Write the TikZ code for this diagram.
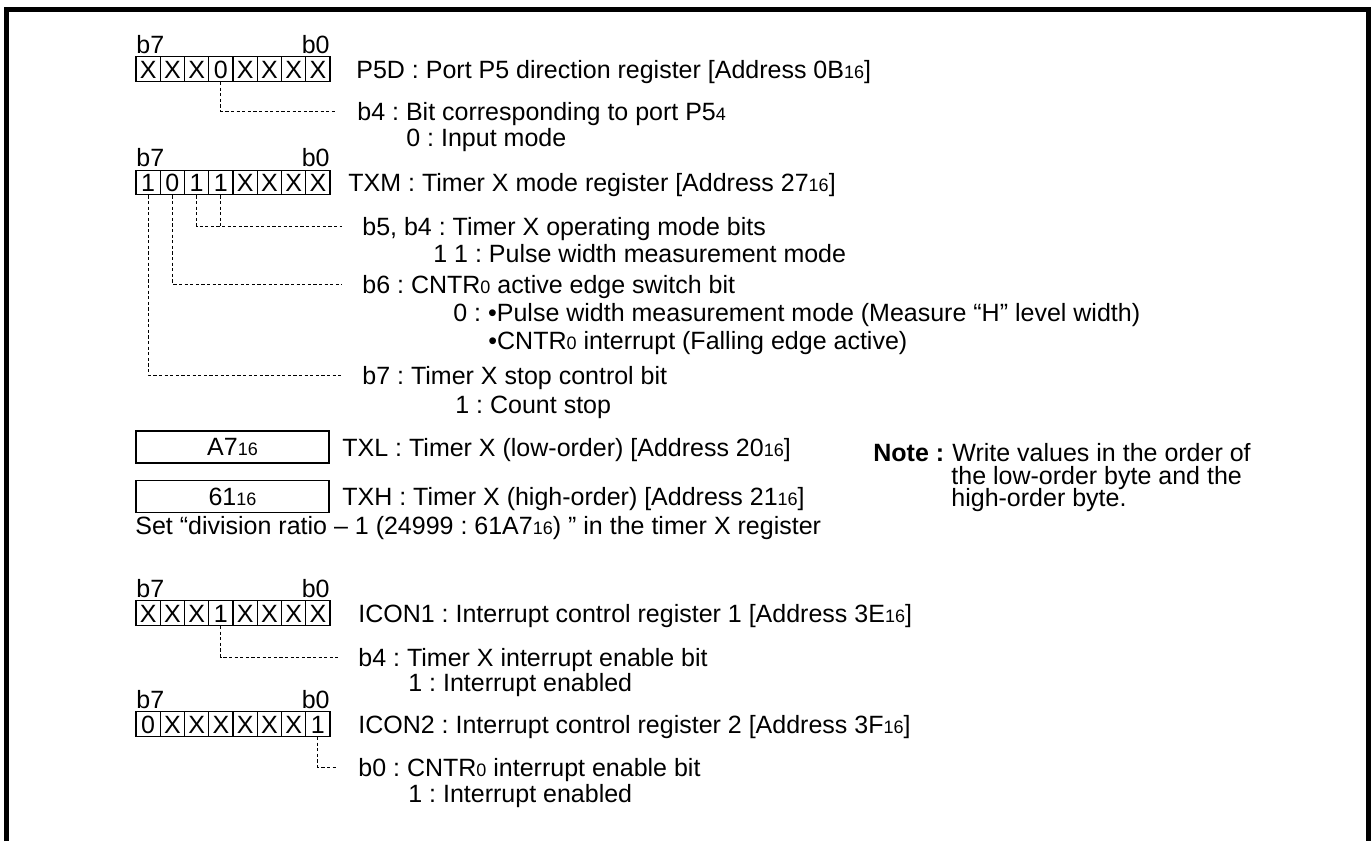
\documentclass[tikz,border=0pt]{standalone}
\usepackage{fontspec}
\setmainfont{Liberation Sans}
\usetikzlibrary{positioning}
\frenchspacing
\newcommand{\lowdig}[1]{{\fontsize{9pt}{10pt}\selectfont #1}}
\tikzset{
  bitcell/.style={draw, line width=0.7pt, minimum width=12.125pt,
    minimum height=12.25pt, inner sep=0pt, text height=9pt, text depth=0pt,
    font=\fontsize{12.5pt}{13pt}\selectfont},
  valbox/.style={draw, line width=0.7pt, minimum width=96.5pt,
    minimum height=16pt, inner sep=0pt},
  desc/.style={anchor=base west, inner sep=0pt, text height=9pt, text depth=0pt},
  bitlbl/.style={inner sep=0pt},
  lead/.style={line width=0.5pt, dash pattern=on 1.6pt off 1.2pt},
  frame/.style={line width=2.6pt}
}

\begin{document}
\begin{tikzpicture}[
    x=0.5pt, y=-0.5pt,
    font=\fontsize{12.5pt}{13pt}\selectfont
]
\useasboundingbox (0,0) rectangle (1371,841);

% frame
\draw[frame] (6.5,841) -- (6.5,9.5) -- (1368.5,9.5) -- (1368.5,841);

% P5D register
\foreach \v [count=\i] in {X,X,X,0,X,X,X,X}
  \node[bitcell] (p5d-\i) at ({136+(\i-0.5)*24.25},69) {\v};
\node[bitlbl, anchor=base west] (p5d-hi) at (136,53) {b7};
\node[bitlbl, anchor=base east] (p5d-lo) at (330,53) {b0};
\node[desc] (p5d)     at (356,78)  {P5D : Port P5 direction register [Address 0B\lowdig{16}]};
\node[desc] (p5d-b4)  at (357,120) {b4 : Bit corresponding to port P5\lowdig{4}};
\node[desc] (p5d-b4v) at (406,146) {0 : Input mode};
\draw[lead] (p5d-4.south) |- ([xshift=-10.5pt]p5d-b4.west);

% TXM register
\foreach \v [count=\i] in {1,0,1,1,X,X,X,X}
  \node[bitcell] (txm-\i) at ({136+(\i-0.5)*24.25},182.5) {\v};
\node[bitlbl, anchor=base west] (txm-hi) at (136,166) {b7};
\node[bitlbl, anchor=base east] (txm-lo) at (330,166) {b0};
\node[desc] (txm)      at (348,191.5) {TXM : Timer X mode register [Address 27\lowdig{16}]};
\node[desc] (txm-b54)  at (362,235) {b5, b4 : Timer X operating mode bits};
\node[desc] (txm-b54v) at (433,262) {1 1 : Pulse width measurement mode};
\node[desc] (txm-b6)   at (362,293) {b6 : CNTR\lowdig{0} active edge switch bit};
\node[desc] (txm-b6v)  at (453,321) {0 : •Pulse width measurement mode (Measure “H” level width)};
\node[desc] (txm-b6w)  at (488,349) {•CNTR\lowdig{0} interrupt (Falling edge active)};
\node[desc] (txm-b7)   at (362,384) {b7 : Timer X stop control bit};
\node[desc] (txm-b7v)  at (455,413) {1 : Count stop};
\draw[lead] (txm-3.south) |- ([xshift=-10pt]txm-b54.west);
\draw[lead] (txm-4.south) -- (txm-4.south |- txm-b54.west);
\draw[lead] (txm-2.south) |- ([xshift=-10pt]txm-b6.west);
\draw[lead] (txm-1.south) |- ([xshift=-10pt]txm-b7.west);

% TXL, TXH
\node[valbox] (txl-val) at (232.5,447)   {A7\lowdig{16}};
\node[valbox] (txh-val) at (232.5,496.5) {61\lowdig{16}};
\node[desc] (txl) at (342,456)   {TXL : Timer X (low-order) [Address 20\lowdig{16}]};
\node[desc] (txh) at (342,505.5) {TXH : Timer X (high-order) [Address 21\lowdig{16}]};
\node[desc] (note-key) at (873,461) {\bfseries Note :};
\node[desc] (note-1)   at (952,461) {Write values in the order of};
\node[desc] (note-2)   at (951,484) {the low-order byte and the};
\node[desc] (note-3)   at (951,506) {high-order byte.};
\node[desc] (setline)  at (135,534) {Set “division ratio – 1 (24999 : 61A7\lowdig{16}) ” in the timer X register};

% ICON1 register
\foreach \v [count=\i] in {X,X,X,1,X,X,X,X}
  \node[bitcell] (ic1-\i) at ({136+(\i-0.5)*24.25},613) {\v};
\node[bitlbl, anchor=base west] (ic1-hi) at (136,597) {b7};
\node[bitlbl, anchor=base east] (ic1-lo) at (330,597) {b0};
\node[desc] (ic1)     at (358,622) {ICON1 : Interrupt control register 1 [Address 3E\lowdig{16}]};
\node[desc] (ic1-b4)  at (358,666) {b4 : Timer X interrupt enable bit};
\node[desc] (ic1-b4v) at (408,691) {1 : Interrupt enabled};
\draw[lead] (ic1-4.south) |- ([xshift=-10pt]ic1-b4.west);

% ICON2 register
\foreach \v [count=\i] in {0,X,X,X,X,X,X,1}
  \node[bitcell] (ic2-\i) at ({136+(\i-0.5)*24.25},724) {\v};
\node[bitlbl, anchor=base west] (ic2-hi) at (136,708) {b7};
\node[bitlbl, anchor=base east] (ic2-lo) at (330,708) {b0};
\node[desc] (ic2)     at (358,733) {ICON2 : Interrupt control register 2 [Address 3F\lowdig{16}]};
\node[desc] (ic2-b0)  at (358,776) {b0 : CNTR\lowdig{0} interrupt enable bit};
\node[desc] (ic2-b0v) at (408,802) {1 : Interrupt enabled};
\draw[lead] (ic2-8.south) |- ([xshift=-10pt]ic2-b0.west);

\end{tikzpicture}
\end{document}
